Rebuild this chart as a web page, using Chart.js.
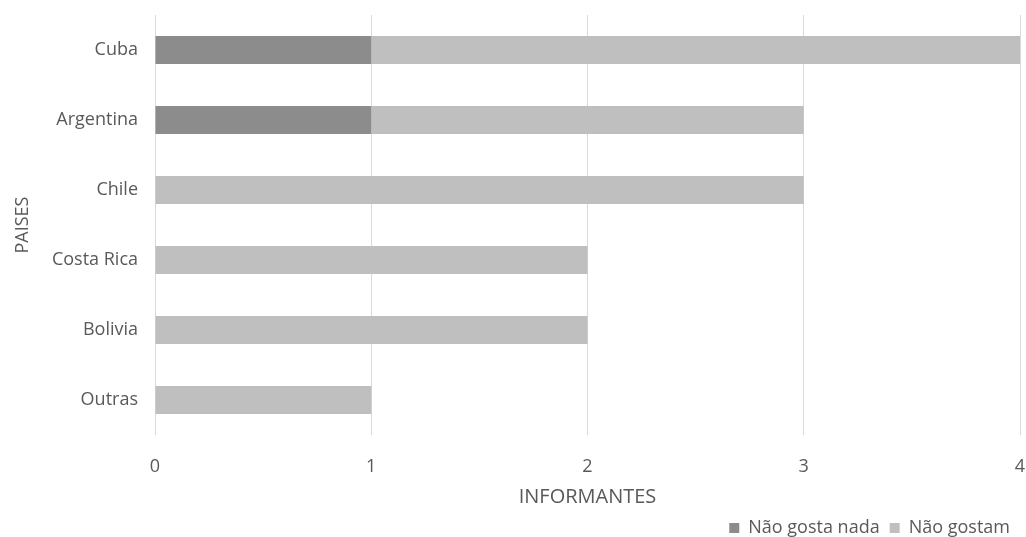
<!DOCTYPE html>
<html>
<head>
<meta charset="utf-8">
<script src="https://cdn.jsdelivr.net/npm/chart.js@4"></script>
<style>
  html, body { margin: 0; padding: 0; background: #fff; }
  #wrap { width: 1026px; height: 537px; }
</style>
</head>
<body>
<div id="wrap"><canvas id="paisesChart"></canvas></div>
<script>
const paises = ['Cuba', 'Argentina', 'Chile', 'Costa Rica', 'Bolivia', 'Outras'];
const naoGostaNada = [1, 1, 0, 0, 0, 0];
const naoGostam = [3, 2, 3, 2, 2, 1];
const xTicks = [0, 1, 2, 3, 4];

const textColor = '#595959';
const fontFamily = "'Open Sans', 'Liberation Sans', sans-serif";

// drop the label overflow padding so the plot spans the full width
function noPad(scale) {
  scale.paddingTop = 0;
  scale.paddingBottom = 0;
  scale.paddingLeft = 0;
  scale.paddingRight = 0;
}

const ctx = document.getElementById('paisesChart').getContext('2d');

new Chart(ctx, {
  type: 'bar',
  data: {
    labels: paises,
    datasets: [
      {
        label: 'Não gosta nada',
        data: naoGostaNada,
        backgroundColor: '#8c8c8c',
        barPercentage: 0.5,
        categoryPercentage: 0.8
      },
      {
        label: 'Não gostam',
        data: naoGostam,
        backgroundColor: '#bfbfbf',
        barPercentage: 0.5,
        categoryPercentage: 0.8
      }
    ]
  },
  options: {
    indexAxis: 'y',
    responsive: true,
    maintainAspectRatio: false,
    animation: false,
    layout: { padding: { top: 15, right: 6, left: 0, bottom: -10 } },
    plugins: {
      tooltip: { enabled: false },
      legend: {
        position: 'bottom',
        align: 'end',
        labels: {
          boxWidth: 10,
          boxHeight: 10,
          color: textColor,
          font: { family: fontFamily, size: 18 },
          padding: 10
        }
      }
    },
    scales: {
      x: {
        stacked: true,
        min: 0,
        max: 4,
        afterBuildTicks: scale => { scale.ticks = xTicks.map(v => ({ value: v })); },
        afterFit: scale => { scale.height = 74; noPad(scale); },
        grid: { color: '#d9d9d9', drawTicks: false },
        border: { display: false },
        ticks: {
          color: textColor,
          font: { family: fontFamily, size: 18 },
          padding: 21
        },
        title: {
          display: true,
          text: 'INFORMANTES',
          color: textColor,
          font: { family: fontFamily, size: 20 },
          padding: { top: 0, bottom: 0 }
        }
      },
      y: {
        stacked: true,
        afterFit: scale => { scale.width = 155; noPad(scale); },
        grid: { display: false },
        border: { display: false },
        ticks: {
          color: textColor,
          font: { family: fontFamily, size: 18 },
          padding: 9
        },
        title: {
          display: true,
          text: 'PAISES',
          color: textColor,
          font: { family: fontFamily, size: 18 },
          padding: { bottom: 0, top: 12 }
        }
      }
    }
  }
});
</script>
</body>
</html>
